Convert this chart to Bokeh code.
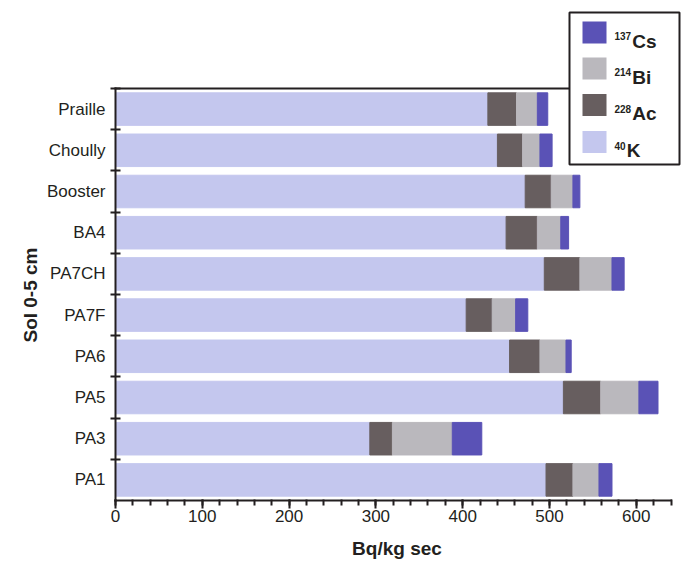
from bokeh.plotting import figure
from bokeh.models import ColumnDataSource, FixedTicker, Range1d, Title
from bokeh.core.properties import value
from bokeh.embed import file_html
from bokeh.resources import INLINE

# ---- data ----
sites = ["PA1", "PA3", "PA5", "PA6", "PA7F", "PA7CH", "BA4", "Booster", "Choully", "Praille"]
k40 = [496, 293, 516, 454, 404, 494, 450, 472, 440, 429]
ac228 = [31, 26, 43, 35, 30, 41, 36, 30, 29, 33]
bi214 = [30, 69, 44, 30, 27, 37, 27, 25, 20, 24]
cs137 = [15, 34, 22, 6, 14, 14, 9, 8, 14, 12]
x_major_ticks = [0, 100, 200, 300, 400, 500, 600]
x_minor_ticks = list(range(0, 641, 20))
x_max = 640

series_keys = ["k40", "ac228", "bi214", "cs137"]
series_colors = ["#c4c7ee", "#675e5f", "#bab8bd", "#5a52b6"]
legend_sup = ["137", "214", "228", "40"]
legend_el = ["Cs", "Bi", "Ac", "K"]
legend_colors = ["#5a52b6", "#bab8bd", "#675e5f", "#c4c7ee"]

FONT = "Liberation Sans"
INK = "#231f20"

# ---- pixel layout (page pixels) ----
W, H = 681, 563
X0_PX, XPU = 115.0, 0.868          # x=0 position, pixels per unit
YB_PX, YPU = 500.0, 41.2           # y=-0.5 position, pixels per category
FR_L, FR_R, FR_T, FR_B = 112, 681, 10, 502   # frame edges


def dx(px):
    return (px - X0_PX) / XPU


def dy(py):
    return -0.5 + (YB_PX - py) / YPU


n = len(sites)
src = ColumnDataSource(dict(y=list(range(n)), k40=k40, ac228=ac228,
                            bi214=bi214, cs137=cs137))

p = figure(width=W, height=H, output_backend="svg", toolbar_location=None,
           x_range=Range1d(dx(FR_L), dx(FR_R)), y_range=Range1d(dy(FR_B), dy(FR_T)),
           min_border_left=FR_L, min_border_right=W - FR_R, min_border_top=FR_T,
           min_border_bottom=H - FR_B)
p.outline_line_color = None
p.xgrid.visible = False
p.ygrid.visible = False
p.background_fill_color = "white"
p.border_fill_color = "white"

p.hbar_stack(series_keys, y="y", height=0.79, color=series_colors, source=src)

# axis lines drawn as segments (frame is larger than the axes)
p.segment(x0=[0, 0, 0], y0=[-0.5, -0.5, n - 0.5],
          x1=[x_max, 0, dx(569)], y1=[-0.5, n - 0.5, n - 0.5],
          line_color=INK, line_width=2, line_cap="square")

# x axis
xa = p.xaxis[0]
xa.ticker = FixedTicker(ticks=x_major_ticks, minor_ticks=x_minor_ticks)
xa.axis_line_color = None
xa.major_tick_line_color = INK
xa.major_tick_line_width = 2
xa.major_tick_out = 6
xa.major_tick_in = 3
xa.minor_tick_line_color = INK
xa.minor_tick_line_width = 2
xa.minor_tick_out = 3
xa.minor_tick_in = 3
xa.major_label_text_font = FONT
xa.major_label_text_font_size = "17px"
xa.major_label_text_color = INK
xa.major_label_standoff = 1
xa.axis_label = "Bq/kg sec"
xa.axis_label_text_font = FONT
xa.axis_label_text_font_style = "bold"
xa.axis_label_text_font_size = "19px"
xa.axis_label_text_color = INK
xa.axis_label_standoff = 13

# y axis
ya = p.yaxis[0]
ya.ticker = FixedTicker(ticks=list(range(n)), minor_ticks=[i + 0.5 for i in range(n)])
ya.major_label_overrides = {i: s for i, s in enumerate(sites)}
ya.axis_line_color = None
ya.major_tick_out = 0
ya.major_tick_in = 0
ya.minor_tick_line_color = INK
ya.minor_tick_line_width = 2
ya.minor_tick_out = 2
ya.minor_tick_in = 8
ya.major_label_text_font = FONT
ya.major_label_text_font_size = "17px"
ya.major_label_text_color = INK
ya.major_label_standoff = 5

ytitle = Title(text="Sol 0-5 cm", align="right", offset=237, standoff=6,
               text_font=FONT, text_font_style="bold", text_font_size="19px",
               text_color=INK)
p.add_layout(ytitle, "left")

# ---- legend (drawn in data space from pixel layout) ----
LG_L, LG_T, LG_R, LG_B = 569, 12, 679, 164
p.quad(left=[dx(LG_L)], right=[dx(LG_R)], top=[dy(LG_T)], bottom=[dy(LG_B)],
       fill_color="white", line_color=INK, line_width=2)

centers = [32, 68, 104.5, 141.5]
sw_l, sw_r = 582, 606
p.quad(left=[dx(sw_l)] * 4, right=[dx(sw_r)] * 4,
       top=[dy(c - 11) for c in centers], bottom=[dy(c + 11) for c in centers],
       fill_color=legend_colors, line_color=None)

sup_x = 614
p.text(x=[dx(sup_x)] * 4, y=[dy(c + 8.5 - 5) for c in centers], text=legend_sup,
       text_font=value(FONT), text_font_style="bold", text_font_size=value("10px"),
       text_color=INK, text_align="left", text_baseline="alphabetic")
p.text(x=[dx(sup_x + len(s) * 5.6 + 1) for s in legend_sup],
       y=[dy(c + 8.5) for c in centers], text=legend_el,
       text_font=value(FONT), text_font_style="bold", text_font_size=value("19px"),
       text_color=INK, text_align="left", text_baseline="alphabetic")

open("out.html", "w").write(file_html(p, INLINE))
